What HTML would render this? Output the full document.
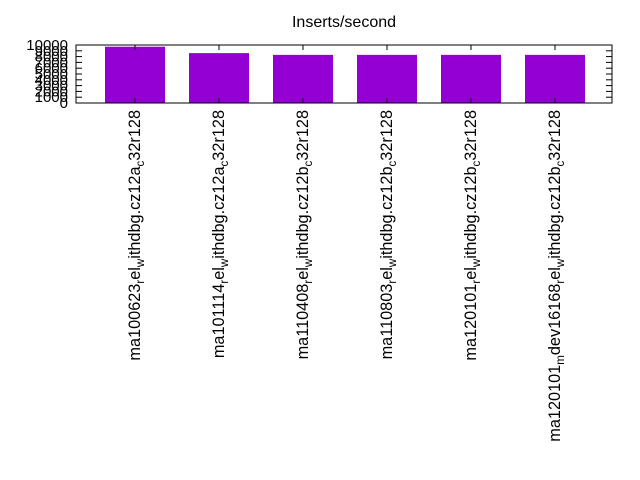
<!DOCTYPE html>
<html><head><meta charset="utf-8"><style>body{margin:0;background:#fff}svg{display:block;font-family:"Liberation Sans",sans-serif}</style></head>
<body>
<svg id="c" width="640" height="480">
<text x="344" y="27" text-anchor="middle" font-size="16">Inserts/second</text>
<g id="plot"></g>
</svg>
<script>
const categories=[["ma100623","r","el","w","ithdbg.cz12a","c","32r128"],["ma101114","r","el","w","ithdbg.cz12a","c","32r128"],["ma110408","r","el","w","ithdbg.cz12b","c","32r128"],["ma110803","r","el","w","ithdbg.cz12b","c","32r128"],["ma120101","r","el","w","ithdbg.cz12b","c","32r128"],["ma120101","m","dev16168","r","el","w","ithdbg.cz12b","c","32r128"]];
const values=[9700,8600,8300,8300,8300,8300];
const yTicks=[0,1000,2000,3000,4000,5000,6000,7000,8000,9000,10000];
const L=76,R=612,T=45,B=103;
const ns="http://www.w3.org/2000/svg";
const g=document.getElementById('plot');
function y(v){return B-(v/10000)*(B-T);}
function x(i){return L+59+i*84;}
function mk(t,a,p){const e=document.createElementNS(ns,t);for(const k in a)e.setAttribute(k,a[k]);(p||g).appendChild(e);return e;}
values.forEach((v,i)=>{
 const r=mk('rect',{x:x(i)-30,y:y(v),width:60,height:B-y(v),fill:'#9400d3'});
 
 
});
const ax=mk('rect',{x:L,y:T,width:R-L,height:B-T,fill:'none',stroke:'#000','stroke-width':1});


yTicks.forEach(t=>{
 mk('line',{x1:L,x2:L+6,y1:y(t),y2:y(t),stroke:'#000'});
 mk('line',{x1:R,x2:R-6,y1:y(t),y2:y(t),stroke:'#000'});
 const tx=mk('text',{x:68,y:y(t)+5,'text-anchor':'end','font-size':15});
 tx.textContent=t;
 
 
});
categories.forEach((parts,i)=>{
 mk('line',{x1:x(i),x2:x(i),y1:T,y2:T+5,stroke:'#000'});
 mk('line',{x1:x(i),x2:x(i),y1:B,y2:B-5,stroke:'#000'});
 const tx=mk('text',{transform:`translate(${x(i)+5},110) rotate(-90)`,'text-anchor':'end','font-size':16.3});
 
 
 parts.forEach((p,j)=>{
  const s=mk('tspan',{},tx);
  s.textContent=p;
  const sub=(j%2===1);
  if(sub){s.setAttribute('font-size','11.5');s.setAttribute('dy','4');}
  else if(j>0){s.setAttribute('dy','-4');}
 });
});
</script>
</body></html>
